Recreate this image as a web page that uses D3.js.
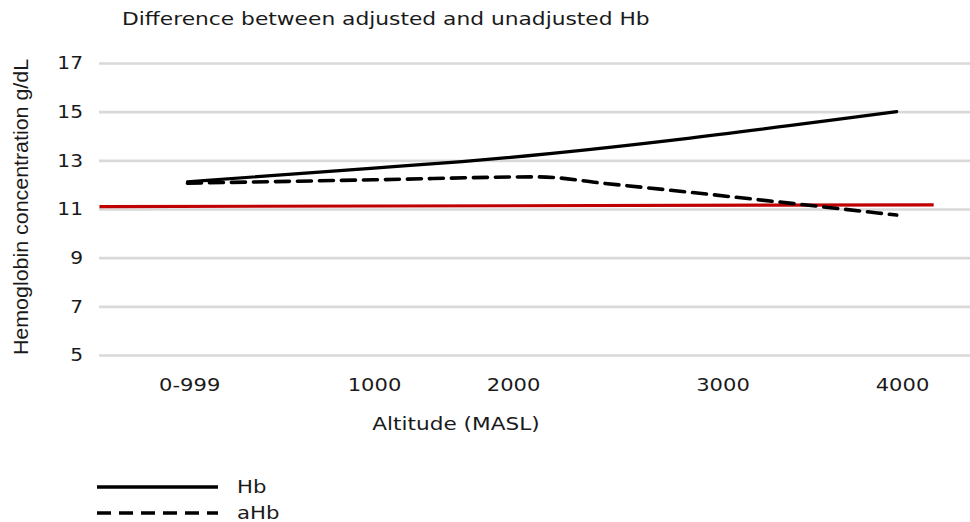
<!DOCTYPE html>
<html>
<head>
<meta charset="utf-8">
<script src="https://cdn.jsdelivr.net/npm/d3@7/dist/d3.min.js"></script>
<style>
  html, body { margin: 0; padding: 0; background: #fff; }
  svg { display: block; }
  text { font-family: "DejaVu Sans", Verdana, sans-serif; fill: #1a1a1a; }
</style>
</head>
<body>
<svg id="chart" width="970" height="522"></svg>
<script>
// Altitude tick positions (m) and their labels
const altitudeTicks = [-50, 1000, 1790, 2980, 4000];
const altitudeLabels = ["0-999", "1000", "2000", "3000", "4000"];

// Hemoglobin ticks (g/dL)
const hbTicks = [5, 7, 9, 11, 13, 15, 17];

// Unadjusted hemoglobin by altitude
const hbAltitude = [-60, 1000, 1500, 3970];
const hbValues   = [12.12, 12.68, 12.95, 15.0];

// Altitude-adjusted hemoglobin
const ahbAltitude = [-60, 1000, 1940, 2300, 3970];
const ahbValues   = [12.06, 12.2, 12.32, 12.06, 10.75];

// Anaemia cut-off reference line
const cutoffAltitude = [-560, 4180];
const cutoffValues   = [11.1, 11.17];

const legendLabels = ["Hb", "aHb"];

const svg = d3.select("#chart");
const plot = { left: 99, right: 970, top: 63, bottom: 355 };

const x = d3.scaleLinear().domain([1000, 4000]).range([374, 902]);
const y = d3.scaleLinear().domain([5, 17]).range([plot.bottom, plot.top]);

// Widen glyphs horizontally by factor k (wide Verdana-like lettering)
function widen(sel, k) {
  sel.each(function () {
    const len = this.getComputedTextLength();
    d3.select(this).attr("textLength", len * k).attr("lengthAdjust", "spacingAndGlyphs");
  });
}

// Title
svg.append("text")
  .attr("x", 122).attr("y", 25)
  .attr("font-size", 17)
  .text("Difference between adjusted and unadjusted Hb")
  .call(widen, 1.28);

// Gridlines and y tick labels
const yAxis = d3.axisLeft(y).tickValues(hbTicks).tickSize(-(plot.right - plot.left)).tickPadding(16);
const gy = svg.append("g").attr("transform", `translate(${plot.left},0)`).call(yAxis);
gy.select(".domain").remove();
gy.selectAll(".tick line").attr("stroke", "#d9d9d9").attr("stroke-width", 2.6);
gy.selectAll(".tick text")
  .attr("font-size", 18)
  .attr("font-family", "DejaVu Sans, Verdana, sans-serif")
  .attr("fill", "#1a1a1a")
  .call(widen, 1.12);

// X axis labels
const xAxis = d3.axisBottom(x)
  .tickValues(altitudeTicks)
  .tickFormat((d, i) => altitudeLabels[i])
  .tickSize(0).tickPadding(23);
const gx = svg.append("g").attr("transform", `translate(0,${plot.bottom})`).call(xAxis);
gx.select(".domain").remove();
gx.selectAll(".tick text")
  .attr("font-size", 18)
  .attr("font-family", "DejaVu Sans, Verdana, sans-serif")
  .attr("fill", "#1a1a1a")
  .call(widen, 1.17);

// Axis titles
svg.append("text")
  .attr("x", 456).attr("y", 430)
  .attr("text-anchor", "middle")
  .attr("font-size", 18)
  .text("Altitude (MASL)")
  .call(widen, 1.2);

svg.append("text")
  .attr("transform", `translate(28,207) rotate(-90)`)
  .attr("text-anchor", "middle")
  .attr("font-size", 20)
  .style("font-family", "'Liberation Sans', Arial, sans-serif")
  .text("Hemoglobin concentration g/dL")
  .call(widen, 1.07);

// Series lines
const zip = (xs, vs) => xs.map((a, i) => [a, vs[i]]);
const line = d3.line().x(d => x(d[0])).y(d => y(d[1])).curve(d3.curveMonotoneX);

svg.append("path")
  .datum(zip(cutoffAltitude, cutoffValues))
  .attr("d", d3.line().x(d => x(d[0])).y(d => y(d[1])))
  .attr("fill", "none").attr("stroke", "#c00000").attr("stroke-width", 3.2);

svg.append("path")
  .datum(zip(ahbAltitude, ahbValues))
  .attr("d", line)
  .attr("fill", "none").attr("stroke", "#000").attr("stroke-width", 3.6)
  .attr("stroke-dasharray", "14,8").attr("stroke-linecap", "round");

svg.append("path")
  .datum(zip(hbAltitude, hbValues))
  .attr("d", line)
  .attr("fill", "none").attr("stroke", "#000").attr("stroke-width", 3.2)
  .attr("stroke-linecap", "round");

// Legend
const legend = svg.append("g");
legendLabels.forEach((label, i) => {
  const ly = 487 + i * 26;
  legend.append("line")
    .attr("x1", 97).attr("x2", 218).attr("y1", ly).attr("y2", ly)
    .attr("stroke", "#000").attr("stroke-width", 3.4)
    .attr("stroke-dasharray", i === 1 ? "14,8" : null);
  legend.append("text")
    .attr("x", 237).attr("y", ly + 6)
    .attr("font-size", 18)
    .text(label)
    .call(widen, 1.18);
});
</script>
</body>
</html>
